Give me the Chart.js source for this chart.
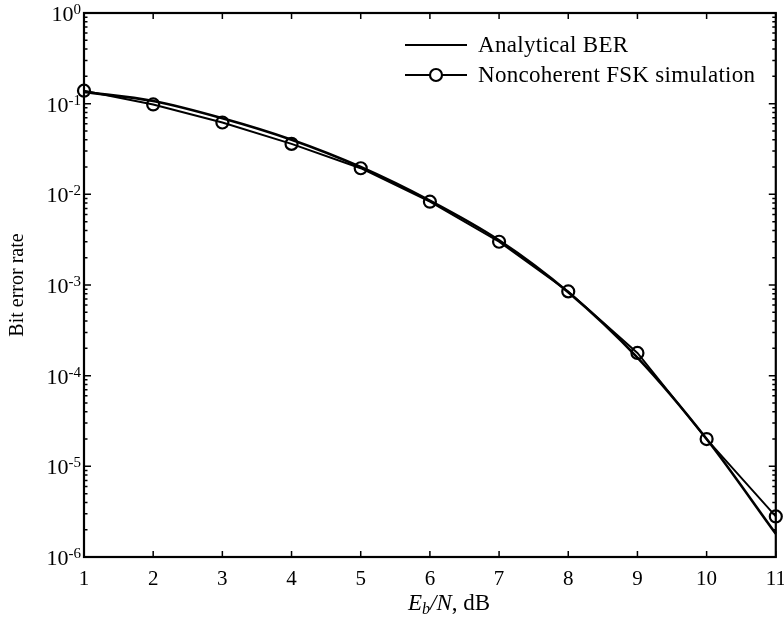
<!DOCTYPE html>
<html><head><meta charset="utf-8">
<script src="https://cdn.jsdelivr.net/npm/chart.js@4.4.1/dist/chart.umd.min.js"></script>
<style>
html,body{margin:0;padding:0;background:#fff;}
#wrap{position:relative;width:784px;height:623px;overflow:hidden;}
canvas{display:block;}
.lg{position:absolute;left:405px;height:26px;display:flex;align-items:center;font-family:"Liberation Serif",serif;font-size:23px;letter-spacing:0.3px;color:#000;white-space:nowrap;}
.lg span{margin-left:11px;}
#xtitle{position:absolute;left:0;width:898px;text-align:center;top:590px;font-family:"Liberation Serif",serif;font-size:23px;color:#000;white-space:nowrap;}
#xtitle sub{font-size:0.7em;vertical-align:-0.25em;line-height:0;}
</style></head>
<body>
<div id="wrap">
<canvas id="c" width="784" height="623"></canvas>
<div class="lg" style="top:32px"><svg width="62" height="26"><line x1="0" y1="13" x2="62" y2="13" stroke="#000" stroke-width="1.8"/></svg><span id="lg0"></span></div>
<div class="lg" style="top:62px"><svg width="62" height="26"><line x1="0" y1="13" x2="62" y2="13" stroke="#000" stroke-width="1.8"/><circle cx="31" cy="13" r="6" fill="#fff" stroke="#000" stroke-width="2.2"/></svg><span id="lg1"></span></div>
<div id="xtitle"><i>E</i><sub><i>b</i></sub><i>/N</i>, dB</div>
</div>
<script>
// ---- data ----
const ebnoDb = [1, 2, 3, 4, 5, 6, 7, 8, 9, 10, 11];
const analyticalBer = [0.135, 0.107, 0.069, 0.040, 0.0200, 0.0085, 0.0031, 0.00083, 0.000158, 0.0000200, 0.0000018];
const simulatedBer  = [0.139, 0.098, 0.062, 0.036, 0.0194, 0.0083, 0.0030, 0.00085, 0.000178, 0.0000200, 0.0000028];
const seriesNames = ['Analytical BER', 'Noncoherent FSK simulation'];
const xTickLabels = ['1','2','3','4','5','6','7','8','9','10','11'];
const yTickExponents = [0, -1, -2, -3, -4, -5, -6];
const yTitle = 'Bit error rate';

document.getElementById('lg0').textContent = seriesNames[0];
document.getElementById('lg1').textContent = seriesNames[1];

const FONT = '"Liberation Serif", serif';

const framePlugin = {
  id: 'frame',
  afterDraw(chart) {
    const {ctx, chartArea: a, scales: {x, y}} = chart;
    ctx.save();
    ctx.strokeStyle = '#000';
    ctx.lineWidth = 2.2;
    ctx.strokeRect(a.left, a.top, a.right - a.left, a.bottom - a.top);
    ctx.lineWidth = 1.5;
    ctx.beginPath();
    ebnoDb.forEach(v => {
      const px = x.getPixelForValue(v);
      ctx.moveTo(px, a.bottom); ctx.lineTo(px, a.bottom - 6);
      ctx.moveTo(px, a.top); ctx.lineTo(px, a.top + 6);
    });
    yTickExponents.forEach(e => {
      const py = y.getPixelForValue(Math.pow(10, e));
      ctx.moveTo(a.left, py); ctx.lineTo(a.left + 7, py);
      ctx.moveTo(a.right, py); ctx.lineTo(a.right - 7, py);
      if (e < 0) {
        for (let m = 2; m <= 9; m++) {
          const pm = y.getPixelForValue(m * Math.pow(10, e));
          ctx.moveTo(a.left, pm); ctx.lineTo(a.left + 3.5, pm);
          ctx.moveTo(a.right, pm); ctx.lineTo(a.right - 3.5, pm);
        }
      }
    });
    ctx.stroke();
    // y tick labels with real superscripts
    ctx.fillStyle = '#000';
    ctx.textBaseline = 'alphabetic';
    yTickExponents.forEach(e => {
      const py = y.getPixelForValue(Math.pow(10, e));
      ctx.font = '15px ' + FONT;
      const sup = String(e);
      const sw = ctx.measureText(sup).width;
      ctx.textAlign = 'right';
      ctx.fillText(sup, a.left - 3, py + 1);
      ctx.font = '22px ' + FONT;
      ctx.fillText('10', a.left - 3 - sw, py + 8);
    });
    ctx.restore();
  }
};

new Chart(document.getElementById('c'), {
  type: 'line',
  data: {
    datasets: [
      {
        label: seriesNames[0],
        data: ebnoDb.map((v, i) => ({x: v, y: analyticalBer[i]})),
        borderColor: '#000', borderWidth: 2.6,
        pointRadius: 0, cubicInterpolationMode: 'monotone',
        fill: false, clip: false
      },
      {
        label: seriesNames[1],
        data: ebnoDb.map((v, i) => ({x: v, y: simulatedBer[i]})),
        borderColor: '#000', borderWidth: 1.9, tension: 0,
        pointRadius: 6, pointBorderWidth: 2.2, pointBorderColor: '#000',
        pointBackgroundColor: 'rgba(255,255,255,0)', pointStyle: 'circle',
        fill: false, clip: false
      }
    ]
  },
  options: {
    responsive: false,
    animation: false,
    devicePixelRatio: 1,
    layout: {padding: {left: 0, right: 6, top: 13, bottom: 0}},
    plugins: {legend: {display: false}, tooltip: {enabled: false}},
    scales: {
      x: {
        type: 'linear', min: 1, max: 11,
        grid: {display: false, drawTicks: false},
        border: {display: false},
        ticks: {
          stepSize: 1, padding: 10, color: '#000', maxRotation: 0, autoSkip: false,
          font: {family: FONT, size: 21},
          callback: (v) => xTickLabels[ebnoDb.indexOf(v)] ?? ''
        },
        afterFit: (s) => { s.height = 66; s.paddingLeft = 0; s.paddingRight = 0; }
      },
      y: {
        type: 'logarithmic', min: 1e-6, max: 1,
        grid: {display: false, drawTicks: false},
        border: {display: false},
        ticks: {display: false},
        title: {display: true, text: yTitle, color: '#000', font: {family: FONT, size: 20}, padding: {top: 6, bottom: 0}},
        afterFit: (s) => { s.width = 84; s.paddingTop = 0; s.paddingBottom = 0; }
      }
    }
  },
  plugins: [framePlugin]
});
</script>
</body></html>
